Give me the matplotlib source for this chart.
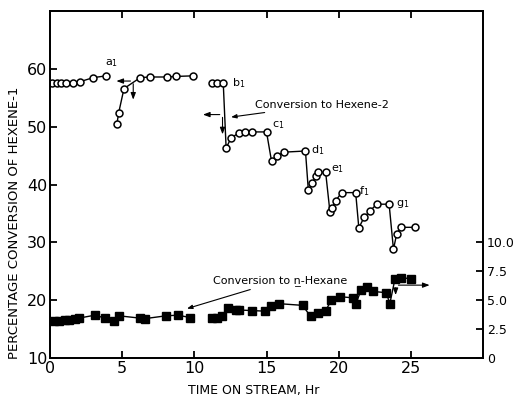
import matplotlib
matplotlib.use("Agg")
import matplotlib.pyplot as plt

# Hexene-1 conversion (open circles), three runs separated by regenerations
hex1_t1 = [0.12, 0.46, 0.78, 1.1, 1.57, 2.08, 3.0, 3.9]
hex1_y1 = [57.5, 57.5, 57.5, 57.5, 57.6, 57.8, 58.5, 58.8]
hex1_t2 = [4.63, 4.75, 5.12, 6.25, 6.95, 8.1, 8.75, 9.9]
hex1_y2 = [50.5, 52.4, 56.6, 58.5, 58.6, 58.6, 58.7, 58.8]
hex1_t3 = [11.2, 11.55, 12.0, 12.2, 12.55, 13.08, 13.5, 13.96, 15.0,
           15.35, 15.74, 16.2, 17.7, 17.9, 18.17, 18.4, 18.6, 19.1,
           19.4, 19.56, 19.8, 20.2, 21.18, 21.4, 21.76, 22.2, 22.64, 23.5,
           23.8, 24.03, 24.3, 25.3]
hex1_y3 = [57.6, 57.6, 57.6, 46.3, 48.1, 48.9, 49.1, 49.1, 49.1,
           44.0, 45.0, 45.6, 45.8, 39.0, 40.2, 41.4, 42.1, 42.1,
           35.2, 36.0, 37.2, 38.6, 38.6, 32.5, 34.3, 35.5, 36.6, 36.6,
           28.8, 31.5, 32.6, 32.6]

# conversion to n-hexane (filled squares), right axis
nhex_t1 = [0.3, 0.6, 1.05, 1.3, 1.75, 2.0, 3.1, 3.8, 4.45, 4.75, 6.2, 6.55,
           8.05, 8.85, 9.7]
nhex_y1 = [3.2, 3.2, 3.25, 3.25, 3.35, 3.45, 3.7, 3.45, 3.2, 3.65, 3.45, 3.4,
           3.65, 3.7, 3.5]
nhex_t2 = [11.25, 11.6, 11.9, 12.35, 12.85, 13.1, 14.0, 14.9, 15.3, 15.85,
           17.5, 18.05, 18.6, 19.1, 19.5, 20.1, 21.0, 21.2, 21.55, 21.95,
           22.4, 23.3, 23.55, 23.9, 24.3, 25.05]
nhex_y2 = [3.5, 3.5, 3.6, 4.3, 4.15, 4.15, 4.1, 4.05, 4.5, 4.7,
           4.55, 3.6, 3.85, 4.1, 5.0, 5.3, 5.2, 4.7, 5.85, 6.15,
           5.75, 5.65, 4.7, 6.8, 6.95, 6.85]

# segment labels a1..g1
seg_labels = ["a$_1$", "b$_1$", "c$_1$", "d$_1$", "e$_1$", "f$_1$", "g$_1$"]
seg_label_t = [3.8, 12.6, 15.4, 18.1, 19.5, 21.4, 24.0]
seg_label_y = [61.0, 57.6, 50.2, 45.9, 42.6, 38.9, 36.7]

fig = plt.figure(figsize=(5.17, 3.96), dpi=100)
ax = fig.add_axes([0.097, 0.096, 0.837, 0.876])
ax2 = ax.twinx()

circ = dict(color="black", lw=1.0, marker="o", ms=5, mfc="white",
            mec="black", mew=1.1)
for t, y in [(hex1_t1, hex1_y1), (hex1_t2, hex1_y2), (hex1_t3, hex1_y3)]:
    ax.plot(t, y, **circ)

sq = dict(color="black", lw=1.0, marker="s", ms=5.5, mfc="black", mec="black")
for t, y in [(nhex_t1, nhex_y1), (nhex_t2, nhex_y2)]:
    ax2.plot(t, y, **sq)

for lab, t, y in zip(seg_labels, seg_label_t, seg_label_y):
    ax.text(t, y, lab, fontsize=8, va="center", ha="left")

arr = dict(arrowstyle="-|>,head_length=0.4,head_width=0.15", lw=0.8, color="black")
# axis-indicator arrows
ax.annotate("", xy=(4.4, 57.9), xytext=(5.76, 57.9), arrowprops=arr)
ax.annotate("", xy=(5.76, 54.2), xytext=(5.76, 57.9), arrowprops=arr)
ax.annotate("", xy=(10.4, 52.1), xytext=(11.95, 52.1), arrowprops=arr)
ax.annotate("", xy=(11.95, 48.2), xytext=(11.95, 52.1), arrowprops=arr)
ax2.annotate("", xy=(26.5, 6.3), xytext=(23.95, 6.3), arrowprops=arr)
ax2.annotate("", xy=(23.95, 5.2), xytext=(23.95, 6.3), arrowprops=arr)

ax.annotate("Conversion to Hexene-2", xy=(12.35, 51.6), xytext=(14.2, 53.8),
            fontsize=8, va="center", ha="left",
            arrowprops=dict(arrowstyle="-|>,head_length=0.4,head_width=0.15",
                            lw=0.8, color="black", shrinkA=0))
ax.annotate("Conversion to n\u0332-Hexane", xy=(9.3, 18.4), xytext=(11.3, 23.4),
            fontsize=8, va="center", ha="left",
            arrowprops=dict(arrowstyle="-|>,head_length=0.4,head_width=0.15",
                            lw=0.8, color="black", shrinkA=2))

ax.set_xlim(0, 30)
ax.set_ylim(10, 70)
ax2.set_ylim(0, 30)
ax.set_xticks([0, 5, 10, 15, 20, 25])
ax.set_yticks([10, 20, 30, 40, 50, 60])
ax2.set_yticks([0, 2.5, 5.0, 7.5, 10.0])
ax2.set_yticklabels(["0", "2.5", "5.0", "7.5", "10.0"])

ax.tick_params(direction="in", top=True, right=False, labelsize=11.5, length=5,
               width=1.3, pad=2)
ax2.tick_params(direction="in", labelsize=9, length=5, width=1.3, pad=3)

ax.set_xlabel("TIME ON STREAM, Hr", fontsize=9)
ax.set_ylabel("PERCENTAGE CONVERSION OF HEXENE-1", fontsize=9.5)
ax.xaxis.set_label_coords(0.47, -0.075)
ax.yaxis.set_label_coords(-0.068, 0.39)

for a in (ax, ax2):
    for s in a.spines.values():
        s.set_linewidth(1.3)

fig.savefig("out.png", dpi=100)
